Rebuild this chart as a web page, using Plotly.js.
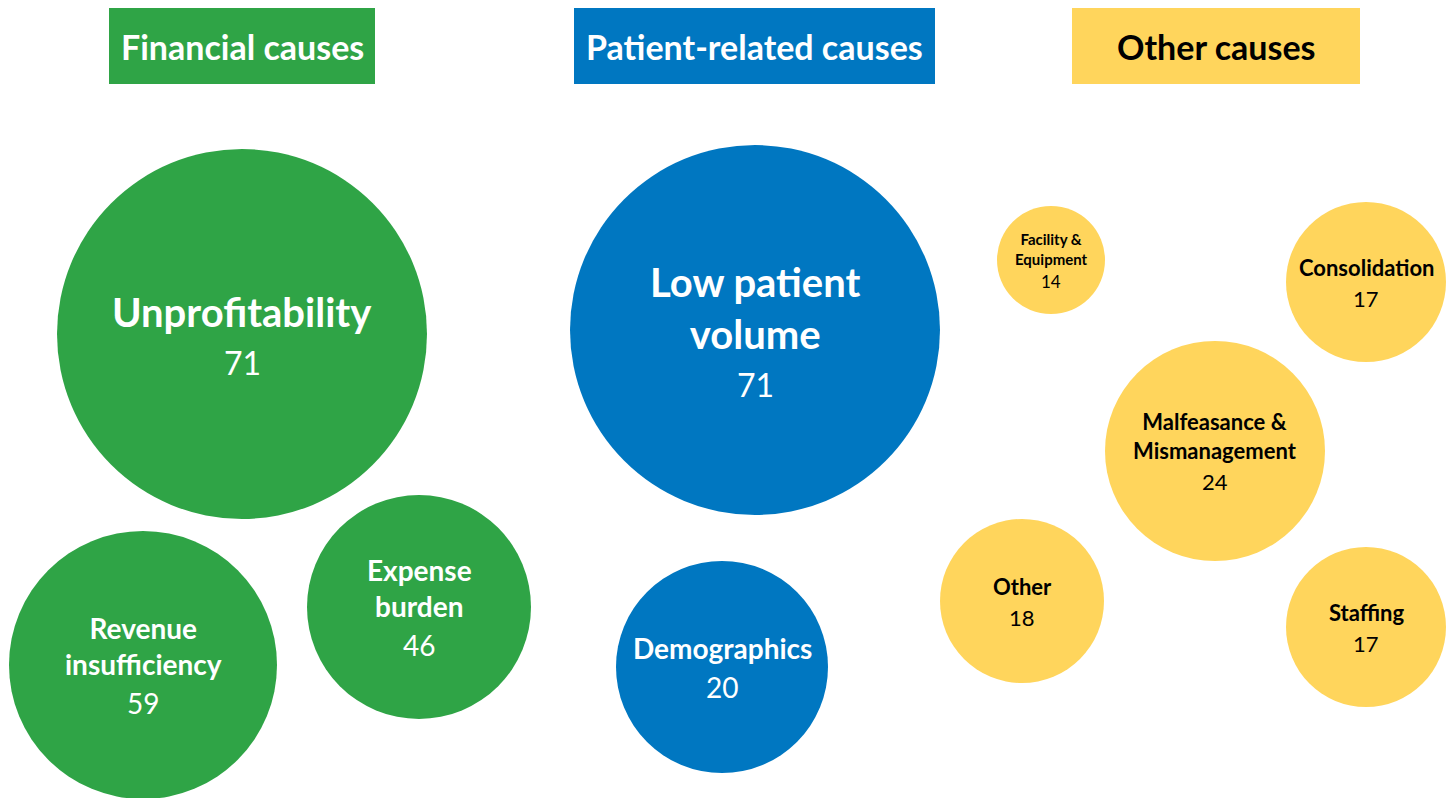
<!DOCTYPE html>
<html><head><meta charset="utf-8">
<script src="https://cdn.plot.ly/plotly-3.0.1.min.js"></script>
<style>html,body{margin:0;padding:0;background:#fff}#chart{width:1453px;height:798px}</style>
</head><body><div id="chart"></div>
<script>
// ---- data ----
const groups = ["Financial causes", "Patient-related causes", "Other causes"];
const labels = ["Unprofitability", "Revenue<br>insufficiency", "Expense<br>burden",
                "Low patient<br>volume", "Demographics",
                "Facility &<br>Equipment", "Consolidation", "Malfeasance &<br>Mismanagement", "Other", "Staffing"];
const values = [71, 59, 46, 71, 20, 14, 17, 24, 18, 17];
const groupOf = [0, 0, 0, 1, 1, 2, 2, 2, 2, 2];

// ---- layout (positions / sizes / styles) ----
const cx = [242, 143, 419, 755, 722, 1051, 1366, 1215, 1022, 1366];
const cy = [334, 665, 607, 330, 667, 260, 282, 451, 601, 627];
const radius = [185, 134, 112, 185, 106, 54, 80, 110, 82, 80];
const labelSize = [40, 28, 28, 40, 28, 15, 22, 22, 22, 22];
const valueSize = [32, 28, 28, 32, 28, 17, 22, 22, 22, 22];
const groupColor = ["#2FA446", "#0077C1", "#FFD55C"];
const textColor = ["#ffffff", "#ffffff", "#000000"];
const headerX0 = [109, 574, 1072];
const headerX1 = [375, 935, 1360];
const headerY0 = 8, headerY1 = 84;
const FONT = "Lato, 'Open Sans', sans-serif";

const trace = {
  type: "scatter", mode: "markers",
  x: cx, y: cy,
  marker: {size: radius.map(r => 2 * r), sizemode: "diameter",
           color: groupOf.map(g => groupColor[g]), opacity: 1, line: {width: 0}},
  hoverinfo: "skip", showlegend: false
};

const shapes = groups.map((g, i) => ({
  type: "rect", xref: "x", yref: "y", x0: headerX0[i], x1: headerX1[i], y0: headerY0, y1: headerY1,
  fillcolor: groupColor[i], line: {width: 0}, layer: "below"
}));

const annotations = [];
groups.forEach((g, i) => annotations.push({
  x: (headerX0[i] + headerX1[i]) / 2, y: (headerY0 + headerY1) / 2, xref: "x", yref: "y",
  text: "<b>" + g + "</b>", showarrow: false,
  font: {family: FONT, size: 34, color: textColor[i]}
}));
labels.forEach((lab, i) => {
  const n = lab.split("<br>").length;
  const labH = n * 1.3 * labelSize[i];
  const valH = 1.35 * valueSize[i];
  const top = cy[i] - (labH + valH) / 2;
  const col = textColor[groupOf[i]];
  annotations.push({x: cx[i], y: top + labH / 2, xref: "x", yref: "y", showarrow: false,
    text: "<b>" + lab + "</b>", font: {family: FONT, size: labelSize[i], color: col}});
  annotations.push({x: cx[i], y: top + labH + valH / 2 + 2, xref: "x", yref: "y", showarrow: false,
    text: String(values[i]), font: {family: FONT, size: valueSize[i], color: col}});
});

const layout = {
  width: 1453, height: 798, margin: {l: 0, r: 0, t: 0, b: 0},
  paper_bgcolor: "#fff", plot_bgcolor: "#fff",
  xaxis: {range: [0, 1453], visible: false, fixedrange: true},
  yaxis: {range: [798, 0], visible: false, fixedrange: true},
  shapes, annotations, showlegend: false
};
Plotly.newPlot("chart", [trace], layout, {displayModeBar: false, staticPlot: true});
</script></body></html>
